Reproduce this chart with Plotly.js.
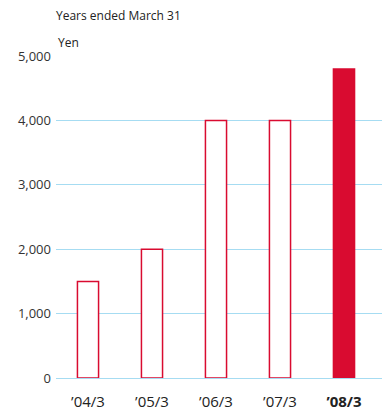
<!DOCTYPE html>
<html>
<head>
<meta charset="utf-8">
<script src="https://cdn.plot.ly/plotly-3.0.1.min.js"></script>
<style>
  html, body { margin: 0; padding: 0; background: #fff; }
  #chart { width: 382px; height: 411px; }
</style>
</head>
<body>
<div id="chart"></div>
<script>
// Fiscal years (ended March 31) and dividend per share in yen
const years = ['’04/3', '’05/3', '’06/3', '’07/3', '’08/3'];
const yearLabels = ['’04/3', '’05/3', '’06/3', '’07/3', '<b>’08/3</b>'];
const dividends = [1500, 2000, 4000, 4000, 4800];
const yTicks = [0, 1000, 2000, 3000, 4000, 5000];

const red = '#d90b30';
// Past years drawn as outlined bars, the latest year filled
const fills = years.map((_, i) => i === years.length - 1 ? red : '#ffffff');

const trace = {
  type: 'bar',
  x: years,
  y: dividends,
  width: 0.33,
  marker: { color: fills, line: { color: red, width: 1.5 } },
  hoverinfo: 'skip'
};

const layout = {
  width: 382,
  height: 411,
  margin: { l: 56, r: 0, t: 56, b: 33, pad: 0 },
  paper_bgcolor: '#ffffff',
  plot_bgcolor: '#ffffff',
  font: { family: 'Open Sans, sans-serif', size: 12, color: '#333333' },
  showlegend: false,
  bargap: 0,
  xaxis: {
    type: 'category',
    range: [-0.5, 4.594],
    tickvals: years,
    ticktext: yearLabels,
    showgrid: false,
    showline: false,
    zeroline: false,
    ticks: '',
    ticklabelstandoff: 13,
    tickfont: { size: 15, color: '#222222' },
    fixedrange: true
  },
  yaxis: {
    range: [0, 5000],
    tickvals: yTicks,
    tickformat: ',d',
    showgrid: true,
    gridcolor: '#a6dcf2',
    gridwidth: 1,
    zeroline: true,
    zerolinecolor: '#a6dcf2',
    zerolinewidth: 1,
    showline: false,
    ticks: '',
    ticklabelstandoff: 4,
    tickfont: { size: 13, color: '#333333' },
    fixedrange: true
  },
  annotations: [
    {
      text: 'Years ended March 31',
      xref: 'paper', yref: 'paper',
      x: 0, y: 1, xshift: -2, yshift: 41,
      xanchor: 'left', yanchor: 'middle',
      showarrow: false,
      font: { size: 12, color: '#222222' }
    },
    {
      text: 'Yen',
      xref: 'paper', yref: 'paper',
      x: 0, y: 1, xshift: 0, yshift: 14,
      xanchor: 'left', yanchor: 'middle',
      showarrow: false,
      font: { size: 12, color: '#222222' }
    }
  ]
};

Plotly.newPlot('chart', [trace], layout, { displayModeBar: false, staticPlot: true });
</script>
</body>
</html>
